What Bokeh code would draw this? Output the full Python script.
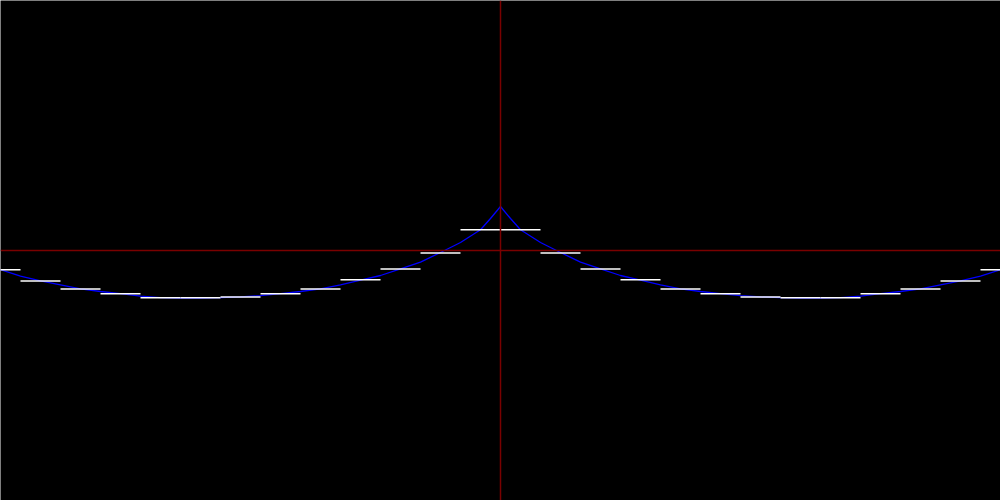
from bokeh.plotting import figure
from bokeh.models import Range1d, Span
from bokeh.embed import file_html
from bokeh.resources import INLINE

# Blue curve samples (right half; the curve is symmetric about x = 0)
curve_x_right = [0.0, 0.25, 0.5, 1.0, 1.5, 2.0, 2.5, 3.0, 3.5, 4.0, 4.5, 5.0, 5.5, 6.0,
                 6.5, 7.0, 7.5, 8.0, 8.5, 9.0, 9.5, 10.0, 10.5, 11.0, 11.5, 12.0, 12.5]
curve_y_right = [1.1, 0.8, 0.52, 0.2, -0.05, -0.29, -0.46, -0.625, -0.74, -0.86, -0.96, -1.025,
                 -1.08, -1.13, -1.16, -1.18, -1.19, -1.19, -1.18, -1.14, -1.08, -1.025, -0.96,
                 -0.86, -0.76, -0.64, -0.48]

# Step (white) segments: midpoints and levels, right half
step_mid_right = [0.5, 1.5, 2.5, 3.5, 4.5, 5.5, 6.5, 7.5, 8.5, 9.5, 10.5, 11.5, 12.5]
step_y_right = [0.52, -0.06, -0.46, -0.73, -0.96, -1.08, -1.16, -1.18, -1.18, -1.08, -0.96, -0.76, -0.48]
step_width = 1.0

curve_x = [-v for v in curve_x_right[::-1]] + curve_x_right[1:]
curve_y = curve_y_right[::-1] + curve_y_right[1:]
step_mid = [-v for v in step_mid_right[::-1]] + step_mid_right
step_y = step_y_right[::-1] + step_y_right

p = figure(width=1000, height=500, output_backend="svg", toolbar_location=None,
           x_range=Range1d(-12.5, 12.5), y_range=Range1d(-6.25, 6.25),
           min_border=0, background_fill_color="black", border_fill_color="black")
p.axis.visible = False
p.grid.visible = False
p.outline_line_color = None

p.add_layout(Span(location=0, dimension="width", line_color="#7a0000", line_width=1.5))
p.add_layout(Span(location=0, dimension="height", line_color="#7a0000", line_width=1.5))

p.line(curve_x, curve_y, line_color="#0000ff", line_width=1.3)
p.segment(x0=[m - step_width / 2 for m in step_mid], y0=step_y,
          x1=[m + step_width / 2 for m in step_mid], y1=step_y,
          line_color="white", line_width=1.5)

html = file_html(p, INLINE)
html = html.replace("<body>", '<body style="margin:0;background:black;">', 1)
open("out.html", "w").write(html)
